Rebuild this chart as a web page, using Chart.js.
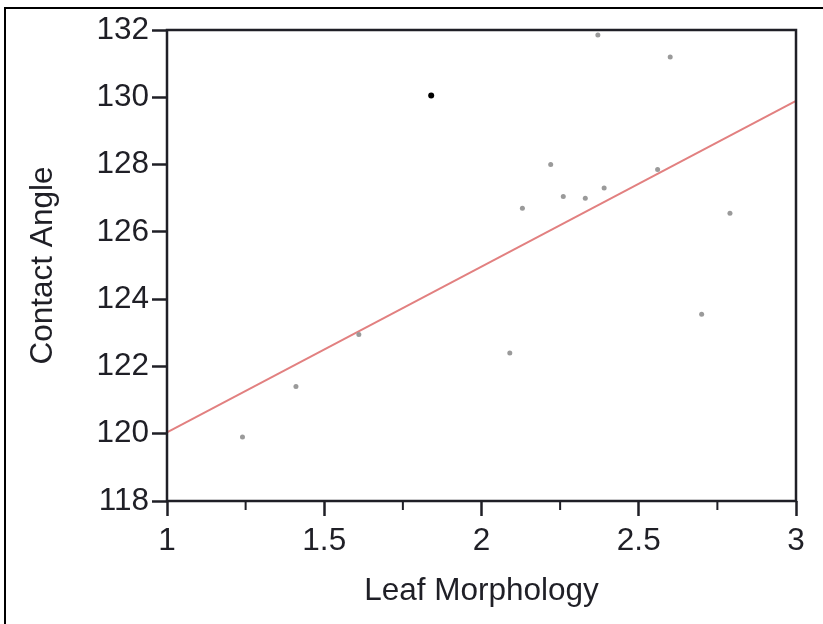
<!DOCTYPE html>
<html>
<head>
<meta charset="utf-8">
<script src="https://cdn.jsdelivr.net/npm/chart.js@4"></script>
<style>
  html, body { margin: 0; padding: 0; background: #fff; }
  #wrap { position: relative; width: 823px; height: 624px; }
  #frame { position: absolute; left: 4px; top: 7px; width: 830px; height: 630px;
           border-top: 2px solid #000; border-left: 2px solid #000; pointer-events: none; }
</style>
</head>
<body>
<div id="wrap">
  <canvas id="myChart" width="823" height="624"></canvas>
  <div id="frame"></div>
</div>
<script>
// measured points (leaf morphology vs contact angle)
const leafX = [1.24, 1.41, 1.61, 2.09, 2.13, 2.22, 2.26, 2.33, 2.39, 2.37, 2.56, 2.60, 2.70, 2.79];
const angleY = [119.9, 121.4, 122.95, 122.4, 126.7, 128.0, 127.05, 127.0, 127.3, 131.85, 127.85, 131.2, 123.55, 126.55];

// highlighted point
const markX = [1.84];
const markY = [130.05];

// fitted line end points
const fitX = [1, 3];
const fitY = [120.04, 129.89];

const yTicks = [118, 120, 122, 124, 126, 128, 130, 132];

const toPts = (xs, ys) => xs.map((x, i) => ({ x: x, y: ys[i] }));
const isMajor = v => Math.abs(v * 2 - Math.round(v * 2)) < 1e-9;

const ink = '#1f1f26';
const tickFont = { family: 'Liberation Sans, Arial, sans-serif', size: 31.5 };

const boxAndMinor = {
    id: 'boxAndMinor',
    afterDraw(chart) {
        const { ctx, chartArea: a } = chart;
        const xs = chart.scales.x;
        ctx.save();
        ctx.strokeStyle = ink;
        ctx.lineWidth = 2.5;
        ctx.strokeRect(a.left, a.top, a.right - a.left, a.bottom - a.top);
        ctx.lineWidth = 2;
        xs.ticks.forEach(t => {
            if (isMajor(t.value)) return;
            const px = xs.getPixelForValue(t.value);
            ctx.beginPath();
            ctx.moveTo(px, a.bottom);
            ctx.lineTo(px, a.bottom + 9);
            ctx.stroke();
        });
        ctx.restore();
    }
};

const ctx = document.getElementById('myChart');

new Chart(ctx, {
    type: 'scatter',
    data: {
        datasets: [{
            label: 'fit',
            type: 'line',
            data: toPts(fitX, fitY),
            borderColor: 'rgb(226,128,128)',
            borderWidth: 2,
            pointRadius: 0,
            fill: false,
            order: 3
        }, {
            label: 'points',
            data: toPts(leafX, angleY),
            backgroundColor: '#9a9a9a',
            borderWidth: 0,
            pointRadius: 2.5,
            order: 2
        }, {
            label: 'mark',
            data: toPts(markX, markY),
            backgroundColor: '#000',
            borderWidth: 0,
            pointRadius: 3,
            order: 1
        }]
    },
    options: {
        responsive: false,
        animation: false,
        layout: { padding: { top: 30, right: 27, left: 0, bottom: 0 } },
        plugins: { legend: { display: false }, tooltip: { enabled: false } },
        scales: {
            x: {
                type: 'linear',
                min: 1,
                max: 3,
                afterFit: s => { s.height = 123; },
                border: { display: false },
                grid: {
                    drawOnChartArea: false,
                    drawTicks: true,
                    tickLength: 15,
                    tickWidth: 2.5,
                    tickColor: c => isMajor(c.tick.value) ? ink : 'rgba(0,0,0,0)'
                },
                ticks: {
                    stepSize: 0.25,
                    autoSkip: false,
                    maxRotation: 0,
                    padding: 6,
                    color: ink,
                    font: tickFont,
                    callback: v => isMajor(v) ? String(v) : ''
                },
                title: {
                    display: true,
                    text: 'Leaf Morphology',
                    color: ink,
                    font: tickFont,
                    padding: { top: 0, bottom: 14 }
                }
            },
            y: {
                type: 'linear',
                min: yTicks[0],
                max: yTicks[yTicks.length - 1],
                afterFit: s => { s.width = 167; },
                afterBuildTicks: s => { s.ticks = yTicks.map(v => ({ value: v })); },
                border: { display: false },
                grid: {
                    drawOnChartArea: false,
                    drawTicks: true,
                    tickLength: 15,
                    tickWidth: 2.5,
                    tickColor: ink
                },
                ticks: {
                    padding: 3,
                    color: ink,
                    font: tickFont
                },
                title: {
                    display: true,
                    text: 'Contact Angle',
                    color: ink,
                    font: tickFont,
                    padding: { top: 24, bottom: 0 }
                }
            }
        }
    },
    plugins: [boxAndMinor]
});
</script>
</body>
</html>
